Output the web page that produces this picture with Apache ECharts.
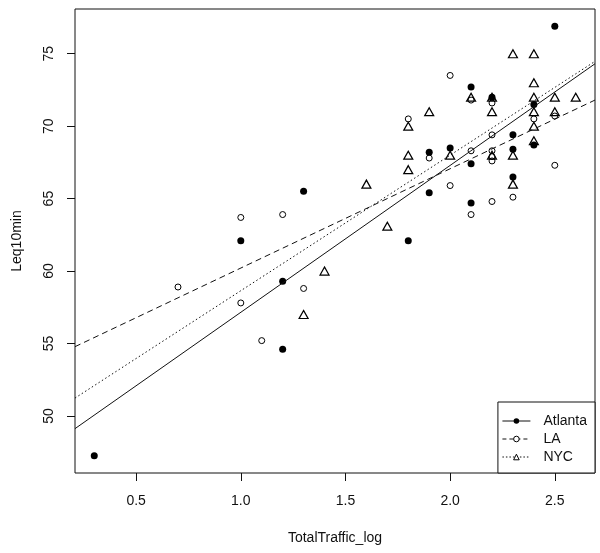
<!DOCTYPE html>
<html><head><meta charset="utf-8">
<script src="https://cdn.jsdelivr.net/npm/echarts@6/dist/echarts.min.js"></script>
<style>html,body{margin:0;padding:0;background:#fff}#c{width:600px;height:553px}</style>
</head><body><div id="c"></div>
<script>
// Tick labels
const xTicks = [0.5, 1.0, 1.5, 2.0, 2.5];
const yTicks = [50, 55, 60, 65, 70, 75];

// Atlanta
const atlantaX = [0.3, 1.0, 1.2, 1.2, 1.3, 1.8, 1.9, 1.9, 2.0, 2.1, 2.1, 2.1, 2.2, 2.3, 2.3, 2.3, 2.4, 2.4, 2.5];
const atlantaY = [47.25, 62.1, 54.6, 59.3, 65.5, 62.1, 68.2, 65.4, 68.5, 72.7, 67.4, 64.7, 72.0, 69.4, 68.4, 66.5, 71.5, 68.7, 76.9];

// LA
const laX = [0.7, 1.0, 1.0, 1.1, 1.2, 1.3, 1.8, 1.9, 2.0, 2.0, 2.1, 2.1, 2.1, 2.2, 2.2, 2.2, 2.2, 2.2, 2.2, 2.3, 2.4, 2.5, 2.5];
const laY = [58.9, 63.7, 57.8, 55.2, 63.9, 58.8, 70.5, 67.8, 73.5, 65.9, 71.8, 68.3, 63.9, 71.6, 69.4, 68.3, 67.9, 67.6, 64.8, 65.1, 70.5, 70.7, 67.3];

// NYC
const nycX = [1.3, 1.4, 1.6, 1.7, 1.8, 1.8, 1.8, 1.9, 2.0, 2.1, 2.2, 2.2, 2.2, 2.3, 2.3, 2.3, 2.4, 2.4, 2.4, 2.4, 2.4, 2.4, 2.5, 2.5, 2.6];
const nycY = [57, 60, 66, 63.1, 70, 68, 67, 71, 68, 72, 72, 71, 68, 75, 68, 66, 75, 73, 72, 71, 70, 69, 72, 71, 72];

const cities = ['Atlanta', 'LA', 'NYC'];

function pairs(xs, ys) { return xs.map((x, i) => [x, ys[i]]); }
function fit(xs, ys) {
  const n = xs.length;
  const mx = xs.reduce((a, b) => a + b, 0) / n;
  const my = ys.reduce((a, b) => a + b, 0) / n;
  let sxy = 0, sxx = 0;
  for (let i = 0; i < n; i++) { sxy += (xs[i] - mx) * (ys[i] - my); sxx += (xs[i] - mx) ** 2; }
  const b = sxy / sxx;
  return [my - b * mx, b];
}
function range(arr) {
  const lo = Math.min(...arr), hi = Math.max(...arr), p = (hi - lo) * 0.04;
  return [lo - p, hi + p];
}
const xr = range(atlantaX.concat(laX, nycX));
const yr = range(atlantaY.concat(laY, nycY));

function fitLine(xs, ys) {
  const [a, b] = fit(xs, ys);
  return [[xr[0], a + b * xr[0]], [xr[1], a + b * xr[1]]];
}

const FONT = "'Liberation Sans', Arial, sans-serif";
const TXT = '#111';
const INK = '#111';

const chart = echarts.init(document.getElementById('c'), null, { renderer: 'canvas' });
chart.setOption({
  animation: false,
  backgroundColor: '#fff',
  grid: { left: 75, right: 5, top: 9, bottom: 80, show: true, borderColor: INK, borderWidth: 1, backgroundColor: 'transparent' },
  xAxis: {
    type: 'value', min: xr[0], max: xr[1],
    name: 'TotalTraffic_log', nameLocation: 'middle', nameGap: 58,
    nameTextStyle: { fontFamily: FONT, fontSize: 14, color: TXT },
    axisLine: { show: false },
    splitLine: { show: false },
    axisTick: { show: true, length: 8, lineStyle: { color: INK }, customValues: xTicks },
    axisLabel: { customValues: xTicks, margin: 21, fontFamily: FONT, fontSize: 14, color: TXT, formatter: v => v.toFixed(1) }
  },
  yAxis: {
    type: 'value', min: yr[0], max: yr[1],
    name: 'Leq10min', nameLocation: 'middle', nameGap: 51, nameRotate: 90,
    nameTextStyle: { fontFamily: FONT, fontSize: 14, color: TXT },
    axisLine: { show: false },
    splitLine: { show: false },
    axisTick: { show: true, length: 8, lineStyle: { color: INK }, customValues: yTicks },
    axisLabel: {
      rotate: 90, margin: 19, fontFamily: FONT, fontSize: 14, color: TXT,
      showMinLabel: false, showMaxLabel: false, hideOverlap: false,
      formatter: v => (yTicks.indexOf(Math.round(v * 1000) / 1000) >= 0 ? String(v) : '')
    }
  },
  legend: {
    data: [
      { name: 'Atlanta', itemStyle: { color: '#000', borderWidth: 0 }, lineStyle: { color: INK, width: 1, type: 'solid' } },
      { name: 'LA', itemStyle: { color: '#fff', borderColor: '#000', borderWidth: 1 }, lineStyle: { color: INK, width: 1, type: [4, 3] } },
      { name: 'NYC', itemStyle: { color: '#fff', borderColor: '#000', borderWidth: 1 }, lineStyle: { color: INK, width: 1, type: [1.5, 2] } }
    ],
    orient: 'vertical', right: 5, bottom: 80,
    backgroundColor: '#fff', borderColor: INK, borderWidth: 1, borderRadius: 0,
    padding: [10, 8, 7, 4], itemGap: 0, itemWidth: 28, itemHeight: 7,
    selectedMode: false,
    textStyle: { fontFamily: FONT, fontSize: 14, color: TXT, lineHeight: 18, padding: [0, 0, 0, 8] }
  },
  series: [
    { type: 'scatter', name: 'Atlanta points', data: pairs(atlantaX, atlantaY), symbol: 'circle', symbolSize: 7,
      itemStyle: { color: '#000', opacity: 1 }, z: 2 },
    { type: 'scatter', name: 'LA points', data: pairs(laX, laY), symbol: 'circle', symbolSize: 6,
      itemStyle: { color: 'rgba(0,0,0,0)', borderColor: '#000', borderWidth: 1, opacity: 1 }, z: 2 },
    { type: 'scatter', name: 'NYC points', data: pairs(nycX, nycY), symbol: 'triangle', symbolSize: [9, 8],
      itemStyle: { color: 'rgba(0,0,0,0)', borderColor: '#000', borderWidth: 1.2, opacity: 1 }, z: 3 },
    { type: 'line', name: 'Atlanta', data: fitLine(atlantaX, atlantaY), symbol: 'circle', showSymbol: false,
      itemStyle: { color: '#000' }, lineStyle: { color: INK, width: 1, type: 'solid' }, z: 4 },
    { type: 'line', name: 'LA', data: fitLine(laX, laY), symbol: 'circle', showSymbol: false,
      itemStyle: { color: '#fff', borderColor: '#000', borderWidth: 1 }, lineStyle: { color: INK, width: 1, type: [6, 4] }, z: 4 },
    { type: 'line', name: 'NYC', data: fitLine(nycX, nycY), symbol: 'triangle', showSymbol: false,
      itemStyle: { color: '#fff', borderColor: '#000', borderWidth: 1 }, lineStyle: { color: INK, width: 1, type: [1.5, 2.5] }, z: 4 }
  ]
});
</script>
</body></html>
